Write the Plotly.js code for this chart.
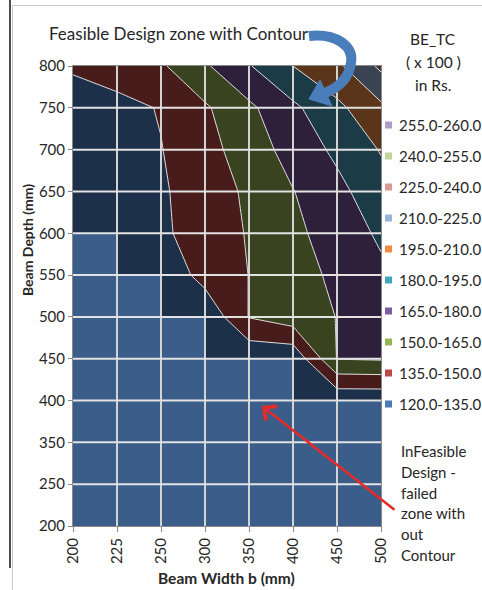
<!DOCTYPE html>
<html><head><meta charset="utf-8">
<script src="https://cdn.plot.ly/plotly-3.0.1.min.js"></script>
<style>html,body{margin:0;padding:0;background:#fff;}#chart{width:482px;height:590px;}</style>
</head><body><div id="chart"></div>
<script>
// ---------- data ----------
const beamWidth = [200, 225, 250, 300, 350, 400, 450, 500];           // x categories (mm)
const beamDepth = [200, 250, 350, 400, 450, 500, 550, 600, 650, 700, 750, 800]; // y categories (mm)
// BE_TC (x100 Rs) for each beam depth, across beam widths; null = infeasible design
const tc200 = [null, null, null, null, null, null, null, null];
const tc250 = [null, null, null, null, null, null, null, null];
const tc350 = [null, null, null, null, null, null, null, null];
const tc400 = [null, null, null, null, null, null, null, null];
const tc450 = [null, null, null, null, null, null, 165.5, 166.5];
const tc500 = [null, null, null, null, 150.6, 158, 165.3, 168];
const tc550 = [null, null, null, 140.7, 150.2, 159, 168, 177.5];
const tc600 = [null, null, 133.5, 139, 151.5, 161, 173, 182];
const tc650 = [125, 128, 133.5, 141, 153, 164.5, 176, 189];
const tc700 = [126, 130, 134.5, 145, 157, 171, 183, 196];
const tc750 = [127.5, 130, 136, 148, 162, 177, 191.5, 207];
const tc800 = [137, 143, 148, 163, 179, 195, 207, 228];
const infeasibleLevel = 123;   // surface level plotted for failed designs

const bandLabels = ["255.0-260.0", "240.0-255.0", "225.0-240.0", "210.0-225.0", "195.0-210.0",
                    "180.0-195.0", "165.0-180.0", "150.0-165.0", "135.0-150.0", "120.0-135.0"];
const bandLegendColors = ["#ab9cc2", "#c2d69b", "#d99694", "#98b4d8", "#ec8d43",
                          "#43a5be", "#7b5e9f", "#95b655", "#bd4a47", "#4a7bb7"];
// shaded surface colours: below 135, 135-150, ..., 210-225, 225-240
const surfaceColors = ["#1d3049", "#481c1b", "#39431f", "#2e203b", "#1b3c47", "#5a3519", "#3a4352", "#4e3434"];
const infeasibleColor = "#3a5d8a";

const titleText = "Feasible Design zone with Contour";
const unitLines = ["BE_TC", "( x 100 )", "in Rs."];
const noteLines = ["InFeasible", "Design -", "failed", "zone with", "out", "Contour"];

// ---------- build ----------
const rows = [tc200, tc250, tc350, tc400, tc450, tc500, tc550, tc600, tc650, tc700, tc750, tc800];
const xi = beamWidth.map((_, i) => i);
const yi = beamDepth.map((_, j) => j);
const z = rows.map(r => r.map(v => v === null ? infeasibleLevel : v));

// flat (fully infeasible) cells -> polygons
const fx = [], fy = [];
for (let j = 0; j < yi.length - 1; j++) {
  for (let i = 0; i < xi.length - 1; i++) {
    const flat = rows[j][i] === null && rows[j][i + 1] === null && rows[j + 1][i] === null && rows[j + 1][i + 1] === null;
    if (flat) {
      fx.push(xi[i], xi[i + 1], xi[i + 1], xi[i], xi[i], null);
      fy.push(yi[j], yi[j], yi[j + 1], yi[j + 1], yi[j], null);
    }
  }
}

const nc = surfaceColors.length - 1;
const cscale = surfaceColors.map((c, k) => [k / nc, c]);

const FONT = 'Lato, "Open Sans", sans-serif';
const TXT = '#262626';

const traces = [
  {
    type: 'contour', x: xi, y: yi, z: z,
    autocontour: false,
    contours: { start: 135, end: 225, size: 15, coloring: 'fill', showlines: true },
    colorscale: cscale, showscale: false,
    line: { color: 'rgba(255,255,255,0.85)', width: 1, smoothing: 0 },
    hoverinfo: 'skip'
  },
  {
    type: 'scatter', mode: 'lines', x: fx, y: fy, fill: 'toself', fillcolor: infeasibleColor,
    line: { width: 0.5, color: infeasibleColor }, hoverinfo: 'skip', connectgaps: false
  }
];

// pixel -> paper helpers for decorations
const PL = 73, PR = 381, PT = 66, PB = 526;
const px = x => (x - PL) / (PR - PL);
const py = y => (PB - y) / (PB - PT);

const shapes = [];
// gridlines over the surface
xi.slice(1, -1).forEach(i => shapes.push({ type: 'line', layer: 'above', xref: 'x', yref: 'y', x0: i, x1: i, y0: 0, y1: yi.length - 1, line: { color: '#d3d3d3', width: 2 } }));
yi.slice(1, -1).forEach(j => shapes.push({ type: 'line', layer: 'above', xref: 'x', yref: 'y', x0: 0, x1: xi.length - 1, y0: j, y1: j, line: { color: '#e2e2e2', width: 2 } }));

// frame lines
shapes.push({ type: 'line', xref: 'paper', yref: 'paper', x0: px(10), x1: px(10), y0: py(0), y1: py(568), line: { color: '#111', width: 1.5 } });
shapes.push({ type: 'line', xref: 'paper', yref: 'paper', x0: px(12.5), x1: px(12.5), y0: py(5), y1: py(590), line: { color: '#c8c8c8', width: 1 } });
shapes.push({ type: 'line', xref: 'paper', yref: 'paper', x0: px(12), x1: px(482), y0: py(5.5), y1: py(5.5), line: { color: '#c8c8c8', width: 1 } });

// curved blue arrow
const P = (x, y) => px(x).toFixed(4) + ',' + py(y).toFixed(4);
shapes.push({ type: 'path', xref: 'paper', yref: 'paper',
  path: 'M' + P(309, 36) + ' C' + P(336, 33) + ' ' + P(354, 46) + ' ' + P(351, 63) + ' C' + P(349, 77) + ' ' + P(340, 87) + ' ' + P(325, 93),
  line: { color: '#4a7ebb', width: 10 } });
shapes.push({ type: 'path', xref: 'paper', yref: 'paper',
  path: 'M' + P(309, 99) + ' L' + P(320, 80) + ' L' + P(332, 106) + ' Z',
  fillcolor: '#4a7ebb', line: { color: '#4a7ebb', width: 1 } });

// legend squares
const legY = k => 125 + k * 31;
bandLabels.forEach((_, k) => shapes.push({ type: 'rect', xref: 'paper', yref: 'paper',
  x0: px(385), x1: px(392), y0: py(legY(k) - 3.5), y1: py(legY(k) + 3.5),
  fillcolor: bandLegendColors[k], line: { width: 0 } }));

const annotations = [];
annotations.push({ xref: 'paper', yref: 'paper', x: px(47), y: py(33), xanchor: 'left', yanchor: 'middle', text: titleText, showarrow: false, font: { family: FONT, size: 17, color: TXT } });
unitLines.forEach((t, k) => annotations.push({ xref: 'paper', yref: 'paper', x: px(433), y: py(39 + k * 23), xanchor: 'center', yanchor: 'middle', text: t, showarrow: false, font: { family: FONT, size: 15.5, color: TXT } }));
bandLabels.forEach((t, k) => annotations.push({ xref: 'paper', yref: 'paper', x: px(397), y: py(legY(k)), xanchor: 'left', yanchor: 'middle', text: t, showarrow: false, font: { family: FONT, size: 15, color: TXT } }));
noteLines.forEach((t, k) => annotations.push({ xref: 'paper', yref: 'paper', x: px(399), y: py(451 + k * 20.8), xanchor: 'left', yanchor: 'middle', text: t, showarrow: false, font: { family: FONT, size: 15, color: TXT } }));
annotations.push({ xref: 'paper', yref: 'paper', x: px(226), y: py(578), xanchor: 'center', yanchor: 'middle', text: '<b>Beam Width b (mm)</b>', showarrow: false, font: { family: FONT, size: 15.5, color: TXT } });
annotations.push({ xref: 'paper', yref: 'paper', x: px(27), y: py(240), xanchor: 'center', yanchor: 'middle', textangle: -90, text: '<b>Beam Depth (mm)</b>', showarrow: false, font: { family: FONT, size: 14, color: TXT } });
// red arrow
annotations.push({ xref: 'paper', yref: 'paper', x: px(262), y: py(406), ax: 134, ay: 105, text: '', showarrow: true,
  arrowhead: 4, arrowsize: 1.4, arrowwidth: 2.5, arrowcolor: '#e62a2a' });

const layout = {
  width: 482, height: 590,
  margin: { l: PL, r: 482 - PR, t: PT, b: 590 - PB, pad: 0 },
  paper_bgcolor: '#fff', plot_bgcolor: '#fff',
  showlegend: false,
  font: { family: FONT, color: TXT },
  xaxis: { range: [0, xi.length - 1], tickvals: xi, ticktext: beamWidth.map(String), tickangle: -90,
    ticks: 'outside', ticklen: 5, tickcolor: '#868686', showline: true, linecolor: '#898989', linewidth: 1, mirror: true,
    showgrid: false, zeroline: false, tickfont: { family: FONT, size: 15, color: TXT }, fixedrange: true },
  yaxis: { range: [0, yi.length - 1], tickvals: yi, ticktext: beamDepth.map(String),
    ticks: 'outside', ticklen: 4, tickcolor: '#868686', showline: true, linecolor: '#898989', linewidth: 1, mirror: true,
    showgrid: false, zeroline: false, tickfont: { family: FONT, size: 15, color: TXT }, fixedrange: true },
  shapes: shapes, annotations: annotations
};

Plotly.newPlot('chart', traces, layout, { displayModeBar: false, staticPlot: true });
</script></body></html>
